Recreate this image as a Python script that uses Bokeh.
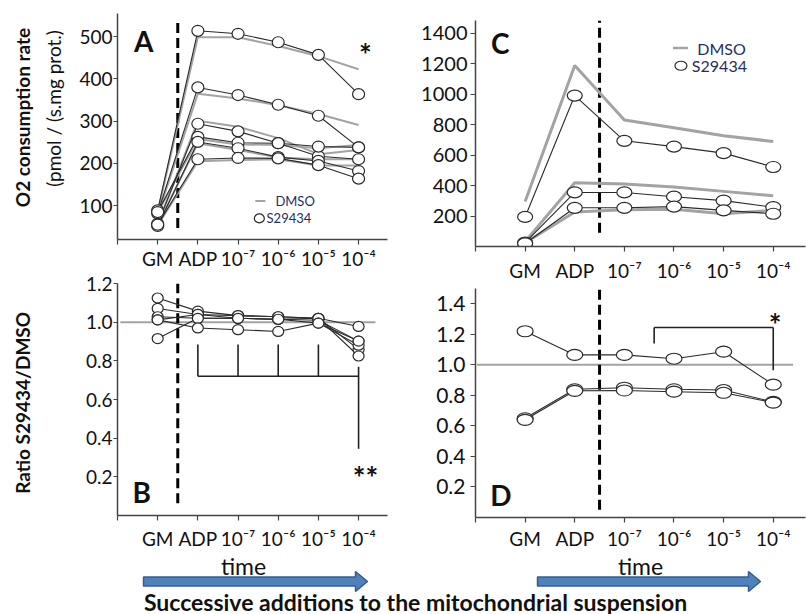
from bokeh.plotting import figure
from bokeh.layouts import row, column
from bokeh.models import Range1d, FixedTicker, Label, PrintfTickFormatter
from bokeh.core.properties import value
from bokeh.embed import file_html
from bokeh.resources import INLINE
import math

FONT = "Lato"
NAVY = "#1f2f5f"
GRAY = "#a3a3a3"
DARK = "#2a2a2a"

# ---------------- data ----------------
positions = [1, 2, 3, 4, 5, 6]
categories = ["GM", "ADP", "10⁻⁷", "10⁻⁶", "10⁻⁵", "10⁻⁴"]

# Panel A: O2 consumption rate, six experiments
a_s29434 = [
    [89, 514, 507, 487, 457, 364],
    [82, 380, 362, 339, 313, 238],
    [57, 294, 276, 248, 217, 210],
    [85, 263, 249, 248, 240, 238],
    [52, 251, 236, 215, 206, 182],
    [55, 210, 213, 212, 196, 164],
]
a_dmso = [
    [85, 499, 499, 478, 454, 423],
    [78, 365, 354, 338, 317, 291],
    [55, 301, 287, 260, 222, 232],
    [83, 258, 245, 244, 236, 244],
    [54, 248, 232, 214, 210, 210],
    [53, 205, 208, 210, 195, 195],
]
a_yticks = [100, 200, 300, 400, 500]

# Panel B: ratio S29434/DMSO
b_ratio = [
    [1.125, 1.057, 1.034, 1.028, 1.020, 0.859],
    [1.071, 1.040, 1.020, 1.015, 1.020, 0.825],
    [1.028, 1.020, 1.020, 1.015, 1.010, 0.902],
    [1.012, 1.040, 1.034, 1.028, 1.020, 0.978],
    [0.915, 1.020, 1.020, 1.015, 0.995, 0.881],
    [1.012, 0.970, 0.961, 0.952, 0.995, 0.902],
]
b_yticks = [0.2, 0.4, 0.6, 0.8, 1.0, 1.2]

# Panel C: O2 consumption rate, three experiments
c_s29434 = [
    [194, 991, 694, 656, 613, 522],
    [26, 355, 355, 327, 301, 258],
    [20, 254, 254, 262, 237, 215],
]
c_dmso = [
    [295, 1189, 830, 780, 727, 690],
    [32, 419, 410, 390, 362, 333],
    [24, 226, 241, 245, 215, 237],
]
c_yticks = [200, 400, 600, 800, 1000, 1200, 1400]

# Panel D: ratio S29434/DMSO
d_ratio = [
    [1.22, 1.065, 1.065, 1.04, 1.086, 0.87],
    [0.65, 0.84, 0.85, 0.84, 0.835, 0.757],
    [0.64, 0.83, 0.832, 0.824, 0.817, 0.753],
]
d_yticks = [0.2, 0.4, 0.6, 0.8, 1.0, 1.2, 1.4]

# significance brackets
b_bracket_ticks = [2, 3, 4, 5]
b_bracket_top, b_bracket_bar = 0.885, 0.72
b_bracket_end = (6, 0.77, 0.345)
d_bracket = dict(x0=3.6, x1=6, y_left=1.14, y_bar=1.245, y_right=0.965)

ADDITION_X = 1.5     # dashed line: start of inhibitor additions (left panels)
ADDITION_X_R = 2.5   # dashed line (right panels)

y_titles = ["O2 consumption rate", "(pmol / (s.mg prot.)", "Ratio  S29434/DMSO"]
caption = "Successive additions to the mitochondrial suspension"


def base_fig(w, h, x_end, y0, y1, bl, br, bt, bb, yticks, yfmt, tick_size,
             ystand, ytick_out, xstand):
    p = figure(width=w, height=h, x_range=Range1d(0, x_end), y_range=Range1d(y0, y1),
               output_backend="svg", toolbar_location=None,
               min_border_left=bl, min_border_right=br, min_border_top=bt,
               min_border_bottom=bb)
    p.xgrid.visible = False
    p.ygrid.visible = False
    p.outline_line_color = None
    p.background_fill_color = "white"
    p.border_fill_color = "white"
    p.xaxis.ticker = FixedTicker(ticks=[0] + positions)
    ov = {0: ""}
    for pos, lab in zip(positions, categories):
        ov[pos] = lab
    p.xaxis.major_label_overrides = ov
    p.yaxis.ticker = FixedTicker(ticks=yticks)
    p.yaxis.formatter = PrintfTickFormatter(format=yfmt)
    for ax in p.axis:
        ax.axis_line_color = "#444444"
        ax.axis_line_width = 1.5
        ax.major_tick_line_color = "#444444"
        ax.major_tick_line_width = 1.2
        ax.major_tick_in = 0
        ax.minor_tick_line_color = None
        ax.major_label_text_font = FONT
        ax.major_label_text_color = "#111111"
    p.xaxis.major_tick_out = 5
    p.xaxis.major_label_text_font_size = "19px"
    p.xaxis.major_label_standoff = xstand
    p.yaxis.major_tick_out = ytick_out
    p.yaxis.major_label_standoff = ystand
    p.yaxis.major_label_text_font_size = tick_size
    return p


def text(p, x, y, t, size, bold=False, angle=0.0, align="center", baseline="middle",
         color="#111111"):
    p.add_layout(Label(x=x, y=y, text=t, text_font=FONT, text_font_size=size,
                       text_font_style="bold" if bold else "normal", angle=angle,
                       text_align=align, text_baseline=baseline, text_color=color))


def draw_series(p, s_list, d_list, d_width, ew, eh):
    if d_list is not None:
        for d in d_list:
            p.line(positions, d, line_color=GRAY, line_width=d_width)
    for s in s_list:
        p.line(positions, s, line_color=DARK, line_width=1.1)
    for s in s_list:
        p.ellipse(positions, s, width=ew, height=eh, width_units="screen",
                  height_units="screen", fill_color="white", line_color=DARK,
                  line_width=1.2)


def blank(w, h):
    p = figure(width=w, height=h, x_range=Range1d(0, w), y_range=Range1d(0, h),
               output_backend="svg", toolbar_location=None, x_axis_type=None,
               y_axis_type=None, min_border=0)
    p.xgrid.visible = False
    p.ygrid.visible = False
    p.outline_line_color = None
    return p


# ---------------- rotated y titles ----------------
plab = blank(70, 552)
plab.text(x=[22], y=[435], text=[y_titles[0]], angle=math.pi / 2,
          text_font=value(FONT), text_font_size="19px", text_font_style="bold",
          text_align="center", text_baseline="middle", text_color="#111111")
plab.text(x=[53], y=[444], text=[y_titles[1]], angle=math.pi / 2,
          text_font=value(FONT), text_font_size="19px",
          text_align="center", text_baseline="middle", text_color="#111111")
plab.text(x=[22], y=[152], text=[y_titles[2]], angle=math.pi / 2,
          text_font=value(FONT), text_font_size="19px", text_font_style="bold",
          text_align="center", text_baseline="middle", text_color="#111111")

# ---------------- Panel A ----------------
pa = base_fig(330, 272, 6.72, 20, 555, 47, 13, 13, 25, a_yticks, "%d", "19px", 1, 4, 2)
pa.segment(x0=[ADDITION_X], y0=[47], x1=[ADDITION_X], y1=[534], line_color="black",
           line_width=3, line_dash="10 5")
draw_series(pa, a_s29434, a_dmso, 2, 12, 11)
pa.line([3.43, 3.68], [111, 111], line_color=GRAY, line_width=2)
text(pa, 3.93, 111, "DMSO", "13px", align="left", color=NAVY)
pa.ellipse([3.53], [70], width=10, height=9, width_units="screen", height_units="screen",
           fill_color="white", line_color=DARK, line_width=1.2)
text(pa, 3.71, 70, "S29434", "13px", align="left", color=NAVY)
text(pa, 0.65, 489, "A", "28px", bold=True)
text(pa, 6.17, 460, "*", "30px", bold=True)

# ---------------- Panel B ----------------
pb = base_fig(330, 280, 6.72, 0, 1.2, 47, 13, 11, 33, b_yticks, "%.1f", "19px", 1, 4, 6)
pb.segment(x0=[0.07], y0=[1.0], x1=[6.42], y1=[1.0], line_color=GRAY, line_width=2)
pb.segment(x0=[ADDITION_X], y0=[0.064], x1=[ADDITION_X], y1=[1.2], line_color="black",
           line_width=3, line_dash="10 5")
draw_series(pb, b_ratio, None, 2, 11, 10)
pb.segment(x0=b_bracket_ticks, y0=[b_bracket_top] * 4, x1=b_bracket_ticks,
           y1=[b_bracket_bar] * 4, line_color="#222222", line_width=1.6)
pb.segment(x0=[b_bracket_ticks[0]], y0=[b_bracket_bar], x1=[b_bracket_end[0]],
           y1=[b_bracket_bar], line_color="#222222", line_width=1.6)
pb.segment(x0=[b_bracket_end[0]], y0=[b_bracket_end[1]], x1=[b_bracket_end[0]],
           y1=[b_bracket_end[2]], line_color="#222222", line_width=1.6)
text(pb, 0.6, 0.122, "B", "28px", bold=True)
text(pb, 6.17, 0.2, "**", "30px", bold=True)

# ---------------- Panel C ----------------
pc = base_fig(406, 284, 6.65, 0, 1484, 75, 1, 20, 34, c_yticks, "%d", "20px", 3, 5, 7)
pc.segment(x0=[ADDITION_X_R], y0=[90], x1=[ADDITION_X_R], y1=[1484], line_color="black",
           line_width=3, line_dash="10 5")
draw_series(pc, c_s29434, c_dmso, 3, 15, 11)
pc.line([3.98, 4.28], [1303, 1303], line_color=GRAY, line_width=2.5)
text(pc, 4.47, 1303, "DMSO", "16px", align="left", color=NAVY)
pc.ellipse([4.14], [1187], width=12, height=9, width_units="screen",
           height_units="screen", fill_color="white", line_color=DARK, line_width=1.2)
text(pc, 4.36, 1187, "S29434", "16px", align="left", color=NAVY)
text(pc, 0.5, 1335, "C", "28px", bold=True)

# ---------------- Panel D ----------------
pd = base_fig(406, 268, 6.65, 0, 1.5, 75, 1, 4, 34, d_yticks, "%.1f", "21px", 5, 5, 4)
pd.segment(x0=[0.03], y0=[1.0], x1=[6.4], y1=[1.0], line_color=GRAY, line_width=2)
pd.segment(x0=[ADDITION_X_R], y0=[0.05], x1=[ADDITION_X_R], y1=[1.5], line_color="black",
           line_width=3, line_dash="10 5")
draw_series(pd, d_ratio, None, 2, 16, 11)
pd.segment(x0=[d_bracket["x0"], d_bracket["x0"], d_bracket["x1"]],
           y0=[d_bracket["y_left"], d_bracket["y_bar"], d_bracket["y_bar"]],
           x1=[d_bracket["x0"], d_bracket["x1"], d_bracket["x1"]],
           y1=[d_bracket["y_bar"], d_bracket["y_bar"], d_bracket["y_right"]],
           line_color="#222222", line_width=1.6)
text(pd, 0.51, 0.15, "D", "28px", bold=True)
text(pd, 6.04, 1.27, "*", "30px", bold=True)

# ---------------- bottom strip: time arrows and caption ----------------
pbot = blank(806, 62)
arrows = [(143, 367, 33), (537, 760, 33)]
for x0, x1, yc in arrows:
    hl, hb, hh = 12, 4.5, 10
    xs = [x0, x1 - hl, x1 - hl, x1, x1 - hl, x1 - hl, x0]
    ys = [yc - hb, yc - hb, yc - hh, yc, yc + hh, yc + hb, yc + hb]
    pbot.patch(xs, ys, fill_color="#4f81bd", line_color="#385d8a", line_width=1.5)
text(pbot, 243, 49, "time", "23px")
text(pbot, 640, 49, "time", "23px")
text(pbot, 415, 13, caption, "23px", bold=True, baseline="middle")

layout = column(row(plab, column(pa, pb), column(pc, pd)), pbot)
open("out.html", "w").write(file_html(layout, INLINE))
